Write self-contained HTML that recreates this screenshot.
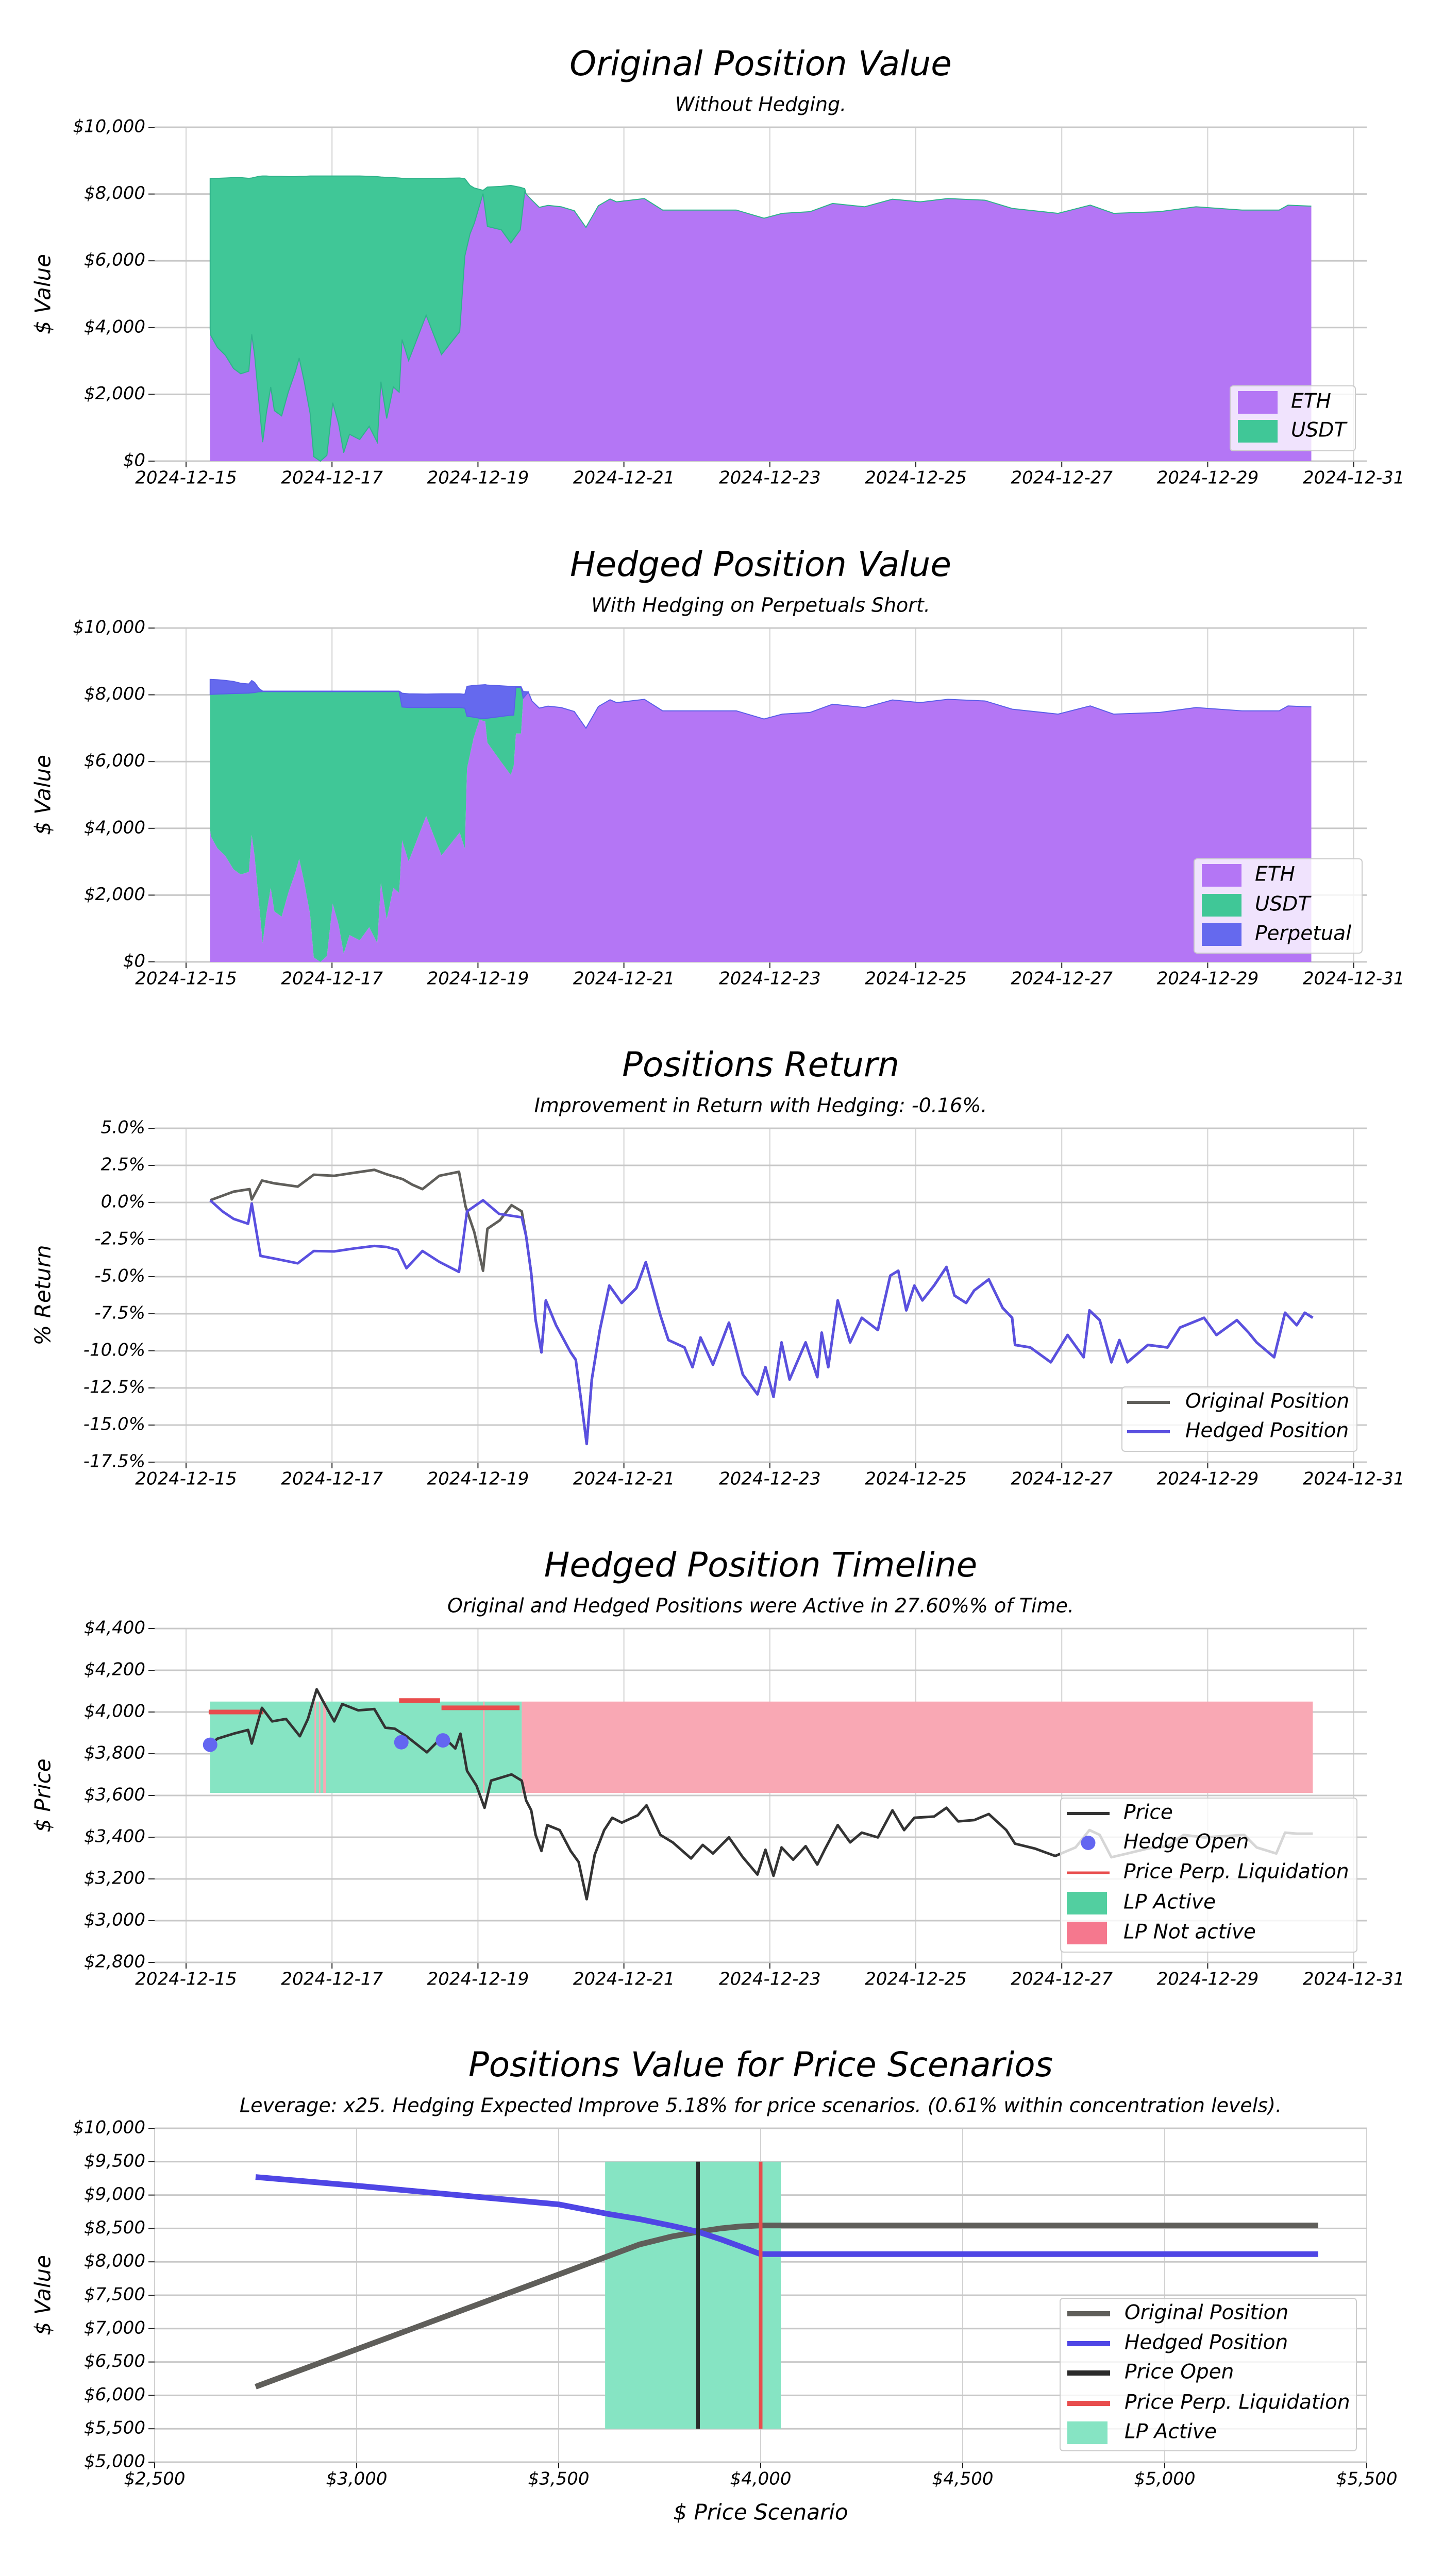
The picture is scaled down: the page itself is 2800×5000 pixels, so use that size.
<!DOCTYPE html>
<html><head><meta charset="utf-8"><title>Position Charts</title>
<style>
html,body{margin:0;padding:0;background:#fff;}
svg{display:block;font-family:"DejaVu Sans","Liberation Sans",sans-serif;font-style:italic;}
</style></head>
<body>
<svg id="root" xmlns="http://www.w3.org/2000/svg" width="2800" height="5000" viewBox="0 0 2800 5000">
<rect x="0" y="0" width="2800" height="5000" fill="#ffffff"/>
</svg>
<script>
// ---------- shared time axis ----------
const dateTicks = ["2024-12-15","2024-12-17","2024-12-19","2024-12-21","2024-12-23","2024-12-25","2024-12-27","2024-12-29","2024-12-31"];
const dateTickDays = [0,2,4,6,8,10,12,14,16];

// ---------- chart 1 & 2: position values ----------
const earlyDays = [0.33,0.34,0.43,0.54,0.65,0.75,0.86,0.9,0.94,1.0,1.05,1.1,1.16,1.21,1.31,1.4,1.5,1.55,1.62,1.7,1.75,1.84,1.93,2.01,2.09,2.16,2.24,2.38,2.51,2.62,2.67,2.75,2.84,2.92,2.96,3.05,3.29,3.5,3.75];
const earlyEth = [3956,3759,3404,3168,2774,2616,2695,3798,3168,1749,567,1434,2222,1513,1355,2065,2695,3089,2380,1434,134,0,173,1749,1119,252,804,646,1040,567,2380,1277,2222,2065,3641,3010,4370,3190,3878];
const earlyUsdtOrig = [4504,4701,5066,5312,5716,5874,5775,4682,5332,6781,7973,7106,6308,7017,7175,6455,5825,5441,6150,7106,8406,8540,8367,6791,7421,8288,7736,7894,7490,7953,6130,7223,6268,6415,4829,5450,4090,5280,4602];
const origMidDays = [3.82,3.89,3.95,4.07,4.13,4.32,4.45,4.58,4.64,4.66];
const origMidEth = [6142,6800,7126,8012,7028,6929,6535,6929,8061,8000];
const origMidUsdt = [2318,1458,1054,98,1181,1301,1723,1271,99,0];
const postDays = [4.74,4.84,4.96,5.14,5.32,5.48,5.65,5.81,5.9,6.28,6.53,7.03,7.54,7.92,8.17,8.55,8.86,9.3,9.68,10.06,10.44,10.95,11.32,11.95,12.39,12.71,13.34,13.84,14.47,14.98,15.1,15.42];
const postValue = [7815,7600,7660,7618,7500,7000,7650,7850,7765,7864,7520,7520,7520,7274,7421,7470,7717,7618,7845,7765,7864,7815,7569,7421,7667,7421,7470,7618,7520,7520,7667,7638];

const earlyUsdtHedged = [4058,4255,4616,4862,5266,5429,5355,4262,4902,6341,7528,6661,5873,6582,6740,6030,5400,5006,5715,6661,7961,8095,7922,6346,6976,7843,7291,7449,7055,7528,5715,6818,5873,6030,3993,4610,3250,4430,3742];
const earlyPerp = [448,448,430,400,360,300,274,368,300,96,15,15,15,15,15,15,15,15,15,15,15,15,15,15,15,15,15,15,15,15,15,15,15,15,414,410,400,410,410];
const hedgedMidDays = [3.82,3.85,3.94,4.02,4.1,4.13,4.31,4.45,4.49,4.52,4.59,4.62,4.69];
const hedgedMidEth = [3400,5800,6703,7255,7200,6566,6014,5600,5876,6841,6841,7900,8083];
const hedgedMidUsdt = [4200,1559,627,45,90,734,1336,1790,1517,1380,1380,0,0];
const hedgedMidPerp = [414,896,950,990,1013,990,920,860,848,20,20,200,0];
const valueTicks = [0,2000,4000,6000,8000,10000];
const valueTickLabels = ["$0","$2,000","$4,000","$6,000","$8,000","$10,000"];

// ---------- chart 3: returns ----------
const origRetDays = [0.33,0.65,0.87,0.9,1.04,1.2,1.53,1.75,2.03,2.3,2.58,2.75,2.97,3.1,3.24,3.47,3.74,3.83,3.95,4.07,4.13,4.3,4.46,4.6];
const origRet = [0.15,0.73,0.9,0.2,1.48,1.3,1.07,1.87,1.8,2.0,2.2,1.9,1.57,1.2,0.9,1.8,2.07,-0.27,-2.0,-4.6,-1.77,-1.2,-0.18,-0.6];
const hedgedRetDays = [0.33,0.5,0.65,0.85,0.9,1.02,1.2,1.53,1.75,2.03,2.3,2.58,2.75,2.9,3.02,3.24,3.47,3.74,3.85,4.07,4.29,4.6];
const hedgedRet = [0.15,-0.6,-1.1,-1.43,-0.07,-3.6,-3.77,-4.1,-3.27,-3.3,-3.1,-2.93,-3.0,-3.2,-4.43,-3.27,-4.0,-4.68,-0.6,0.15,-0.77,-1.0];
const tailRetDays = [4.66,4.73,4.79,4.87,4.93,5.07,5.27,5.34,5.42,5.49,5.56,5.67,5.8,5.97,6.17,6.3,6.5,6.61,6.83,6.94,7.05,7.22,7.44,7.63,7.83,7.94,8.05,8.16,8.27,8.49,8.65,8.71,8.8,8.93,9.1,9.26,9.48,9.65,9.76,9.87,9.98,10.09,10.25,10.42,10.53,10.69,10.8,11.0,11.19,11.32,11.36,11.57,11.85,12.08,12.3,12.38,12.52,12.68,12.79,12.9,13.18,13.45,13.62,13.95,14.12,14.4,14.56,14.67,14.91,15.06,15.22,15.33,15.44];
const tailRet = [-2.27,-4.77,-7.93,-10.1,-6.6,-8.27,-10.1,-10.6,-13.6,-16.27,-11.93,-8.6,-5.6,-6.77,-5.77,-4.02,-7.6,-9.27,-9.77,-11.1,-9.1,-10.93,-8.1,-11.6,-12.93,-11.1,-13.1,-9.43,-11.93,-9.43,-11.77,-8.77,-11.1,-6.6,-9.43,-7.77,-8.6,-4.93,-4.6,-7.27,-5.6,-6.6,-5.6,-4.35,-6.27,-6.77,-5.93,-5.18,-7.1,-7.77,-9.6,-9.77,-10.77,-8.93,-10.43,-7.27,-7.93,-10.77,-9.27,-10.77,-9.6,-9.77,-8.43,-7.77,-8.93,-7.93,-8.77,-9.43,-10.43,-7.43,-8.27,-7.43,-7.77];
const retTicks = [5,2.5,0,-2.5,-5,-7.5,-10,-12.5,-15,-17.5];
const retTickLabels = ["5.0%","2.5%","0.0%","-2.5%","-5.0%","-7.5%","-10.0%","-12.5%","-15.0%","-17.5%"];

// ---------- chart 4: timeline ----------
const priceDays = [0.33,0.43,0.65,0.85,0.9,1.04,1.18,1.37,1.56,1.67,1.79,1.87,2.03,2.14,2.36,2.58,2.73,2.86,3.02,3.3,3.52,3.69,3.76,3.85,3.98,4.09,4.18,4.46,4.6,4.66,4.73,4.79,4.87,4.95,5.12,5.27,5.38,5.49,5.6,5.73,5.84,5.97,6.19,6.31,6.5,6.67,6.92,7.08,7.22,7.44,7.63,7.83,7.94,8.05,8.16,8.32,8.49,8.65,8.76,8.93,9.1,9.26,9.48,9.68,9.84,9.98,10.25,10.42,10.58,10.8,11.0,11.24,11.36,11.63,11.91,12.19,12.38,12.52,12.68,12.9,13.18,13.45,13.67,13.95,14.23,14.5,14.67,14.94,15.06,15.22,15.44];
const prices = [3843,3872,3896,3914,3849,4020,3955,3967,3884,3967,4109,4056,3955,4038,4008,4014,3925,3920,3884,3807,3884,3825,3896,3718,3647,3541,3671,3701,3671,3576,3529,3411,3334,3458,3434,3334,3281,3103,3316,3434,3493,3470,3505,3553,3411,3375,3298,3363,3322,3399,3304,3221,3340,3215,3351,3292,3357,3269,3346,3458,3375,3422,3399,3529,3434,3493,3499,3541,3476,3482,3511,3434,3369,3346,3310,3351,3434,3411,3304,3322,3346,3357,3411,3399,3405,3411,3351,3322,3422,3417,3417];
const hedgeOpenDays = [0.33,2.95,3.52];
const hedgeOpenPrices = [3843,3855,3864];
const liqStartDays = [0.31,2.92,3.5];
const liqEndDays = [1.06,3.48,4.57];
const liqPrices = [4000,4055,4020];
const lpActiveStart = [0.33];
const lpActiveEnd = [4.6];
const lpInactiveStart = [1.76,1.82,1.88,4.07,4.6];
const lpInactiveEnd = [1.78,1.84,1.92,4.09,15.44];
const lpLow = 3612;
const lpHigh = 4050;
const priceTicks = [4400,4200,4000,3800,3600,3400,3200,3000,2800];
const priceTickLabels = ["$4,400","$4,200","$4,000","$3,800","$3,600","$3,400","$3,200","$3,000","$2,800"];

// ---------- chart 5: scenarios ----------
const scenarioPrices = [2750,3000,3250,3500,3620,3700,3780,3845,3900,3950,4000,4500,5000,5380];
const scenarioOriginal = [6130,6690,7250,7810,8080,8260,8380,8450,8500,8530,8545,8545,8545,8545];
const scenarioHedged = [9270,9140,9000,8860,8720,8640,8540,8450,8340,8230,8115,8115,8115,8115];
const priceOpen = 3845;
const priceLiquidation = 4000;
const lpRangeLow = 3615;
const lpRangeHigh = 4050;
const lpValueLow = 5500;
const lpValueHigh = 9500;
const scenXTicks = [2500,3000,3500,4000,4500,5000,5500];
const scenXTickLabels = ["$2,500","$3,000","$3,500","$4,000","$4,500","$5,000","$5,500"];
const scenYTicks = [10000,9500,9000,8500,8000,7500,7000,6500,6000,5500,5000];
const scenYTickLabels = ["$10,000","$9,500","$9,000","$8,500","$8,000","$7,500","$7,000","$6,500","$6,000","$5,500","$5,000"];

// ================= drawing =================
const NS = "http://www.w3.org/2000/svg";
const root = document.getElementById("root");
const L = 300, R = 2652, H = 648;
function mk(parent, tag, attrs, name, text) {
  const el = document.createElementNS(NS, tag);
  for (const k in attrs) el.setAttribute(k, attrs[k]);
  
  
  if (text !== undefined) el.textContent = text;
  parent.appendChild(el);
  return el;
}
function group(name) {
  const g = document.createElementNS(NS, "g");
  
  
  root.appendChild(g);
  return g;
}
const tX = d => L + (d + 0.431) * 141.6;

function frame(g, top, title, subtitle, ylabel, yVals, yLabs, yFn, xVals, xLabs, xFn) {
  mk(g, "text", {x:1476, y:top-119, "font-size":66, "text-anchor":"middle", "dominant-baseline":"middle", fill:"#000"}, "chart-title", title);
  mk(g, "text", {x:1476, y:top-42, "font-size":38, "text-anchor":"middle", "dominant-baseline":"middle", fill:"#000"}, "chart-subtitle", subtitle);
  mk(g, "text", {x:0, y:0, "font-size":42, "text-anchor":"middle", "dominant-baseline":"middle", transform:`translate(86,${top+H/2}) rotate(-90)`, fill:"#000"}, "y-axis-title", ylabel);
  for (let i=0;i<xVals.length;i++){
    const x = xFn(xVals[i]);
    mk(g, "line", {x1:x, x2:x, y1:top, y2:top+H, stroke:"#d2d2d2", "stroke-width":2}, "x-gridline");
    mk(g, "line", {x1:x, x2:x, y1:top+H, y2:top+H+12, stroke:"#222", "stroke-width":2}, "x-tick");
    mk(g, "text", {x:x, y:top+H+34, "font-size":34, "text-anchor":"middle", "dominant-baseline":"middle", fill:"#000"}, "x-tick-label", xLabs[i]);
  }
  for (let i=0;i<yVals.length;i++){
    const y = yFn(yVals[i]);
    mk(g, "line", {x1:L, x2:R, y1:y, y2:y, stroke:"#c8c8c8", "stroke-width":3}, "y-gridline");
    mk(g, "line", {x1:L-12, x2:L, y1:y, y2:y, stroke:"#222", "stroke-width":2}, "y-tick");
    mk(g, "text", {x:L-18, y:y, "font-size":34, "text-anchor":"end", "dominant-baseline":"middle", fill:"#000"}, "y-tick-label", yLabs[i]);
  }
}
function legend(g, x, y, w, h, items, textX) {
  mk(g, "rect", {x:x, y:y, width:w, height:h, rx:6, fill:"#ffffff", "fill-opacity":0.8, stroke:"#cccccc", "stroke-width":2}, "legend-box");
  items.forEach(it => {
    if (it.kind === "patch") mk(g, "rect", {x:it.ix, y:it.y-22, width:it.iw, height:44, fill:it.color}, "legend-swatch");
    else if (it.kind === "line") mk(g, "line", {x1:it.ix, x2:it.ix+it.iw, y1:it.y, y2:it.y, stroke:it.color, "stroke-width":it.sw||8}, "legend-swatch");
    else mk(g, "circle", {cx:it.ix+it.iw/2, cy:it.y, r:14, fill:it.color}, "legend-swatch");
    mk(g, "text", {x:textX, y:it.y, "font-size":39, "dominant-baseline":"middle", fill:"#000"}, "legend-entry", it.label);
  });
}
function stackPath(days, lower, upper, yFn) {
  let d = "";
  for (let i=0;i<days.length;i++) d += (i?"L":"M") + tX(days[i]).toFixed(1) + "," + yFn(upper[i]).toFixed(1);
  for (let i=days.length-1;i>=0;i--) d += "L" + tX(days[i]).toFixed(1) + "," + yFn(lower[i]).toFixed(1);
  return d + "Z";
}
function linePts(xs, ys, xFn, yFn){ return xs.map((v,i)=>xFn(v).toFixed(1)+","+yFn(ys[i]).toFixed(1)).join(" "); }

// ---- Chart 1 ----
(function(){
  const top = 247, g = group("original-position-value-chart");
  const Y = v => top + H - v/10000*H;
  frame(g, top, "Original Position Value", "Without Hedging.", "$ Value", valueTicks, valueTickLabels, Y, dateTickDays, dateTicks, tX);
  const days = earlyDays.concat(origMidDays, postDays);
  const eth = earlyEth.concat(origMidEth, postValue);
  const usdt = earlyUsdtOrig.concat(origMidUsdt, postValue.map(() => 0));
  const zero = days.map(() => 0);
  const top1 = eth.map((v,i)=>v+usdt[i]);
  mk(g, "path", {d:stackPath(days, zero, eth, Y), fill:"#b476f5"}, "eth-area");
  mk(g, "path", {d:stackPath(days, eth, top1, Y), fill:"#40c797", stroke:"#2fb38a", "stroke-width":2}, "usdt-area");
  legend(g, 2387, 749, 243, 126, [
    {kind:"patch", ix:2402, iw:77, y:781, color:"#b476f5", label:"ETH"},
    {kind:"patch", ix:2402, iw:77, y:837, color:"#40c797", label:"USDT"}], 2505);
})();

// ---- Chart 2 ----
(function(){
  const top = 1219, g = group("hedged-position-value-chart");
  const Y = v => top + H - v/10000*H;
  frame(g, top, "Hedged Position Value", "With Hedging on Perpetuals Short.", "$ Value", valueTicks, valueTickLabels, Y, dateTickDays, dateTicks, tX);
  const days = earlyDays.concat(hedgedMidDays, postDays);
  const eth = earlyEth.concat(hedgedMidEth, postValue);
  const usdt = earlyUsdtHedged.concat(hedgedMidUsdt, postValue.map(() => 0));
  const perp = earlyPerp.concat(hedgedMidPerp, postValue.map(() => 0));
  const zero = days.map(() => 0);
  const l2 = eth.map((v,i)=>v+usdt[i]);
  const l3 = l2.map((v,i)=>v+perp[i]);
  mk(g, "path", {d:stackPath(days, zero, eth, Y), fill:"#b476f5"}, "eth-area");
  mk(g, "path", {d:stackPath(days, eth, l2, Y), fill:"#40c797"}, "usdt-area");
  mk(g, "path", {d:stackPath(days, l2, l3, Y), fill:"#6569ee", stroke:"#5b5fe8", "stroke-width":2}, "perpetual-area");
  legend(g, 2317, 1667, 326, 183, [
    {kind:"patch", ix:2332, iw:77, y:1699, color:"#b476f5", label:"ETH"},
    {kind:"patch", ix:2332, iw:77, y:1757, color:"#40c797", label:"USDT"},
    {kind:"patch", ix:2332, iw:77, y:1814, color:"#6569ee", label:"Perpetual"}], 2435);
})();

// ---- Chart 3 ----
(function(){
  const top = 2190, g = group("positions-return-chart");
  const Y = v => top + (5 - v)/22.5*H;
  frame(g, top, "Positions Return", "Improvement in Return with Hedging: -0.16%.", "% Return", retTicks, retTickLabels, Y, dateTickDays, dateTicks, tX);
  mk(g, "polyline", {points:linePts(origRetDays.concat(tailRetDays), origRet.concat(tailRet), tX, Y), fill:"none", stroke:"#5f5e5a", "stroke-width":5, "stroke-linejoin":"round"}, "original-position-line");
  mk(g, "polyline", {points:linePts(hedgedRetDays.concat(tailRetDays), hedgedRet.concat(tailRet), tX, Y), fill:"none", stroke:"#5a50e0", "stroke-width":5, "stroke-linejoin":"round"}, "hedged-position-line");
  legend(g, 2177, 2692, 456, 125, [
    {kind:"line", ix:2187, iw:83, y:2722, color:"#5f5e5a", label:"Original Position", sw:6},
    {kind:"line", ix:2187, iw:83, y:2779, color:"#5a50e0", label:"Hedged Position", sw:6}], 2300);
})();

// ---- Chart 4 ----
(function(){
  const top = 3161, g = group("hedged-position-timeline-chart");
  const Y = v => top + (4400 - v)/1600*H;
  frame(g, top, "Hedged Position Timeline", "Original and Hedged Positions were Active in 27.60%% of Time.", "$ Price", priceTicks, priceTickLabels, Y, dateTickDays, dateTicks, tX);
  for (let i=0;i<lpActiveStart.length;i++)
    mk(g, "rect", {x:tX(lpActiveStart[i]), y:Y(lpHigh), width:tX(lpActiveEnd[i])-tX(lpActiveStart[i]), height:Y(lpLow)-Y(lpHigh), fill:"#86e4c3"}, "lp-active-range");
  for (let i=0;i<lpInactiveStart.length;i++)
    mk(g, "rect", {x:tX(lpInactiveStart[i]), y:Y(lpHigh), width:Math.max(3,tX(lpInactiveEnd[i])-tX(lpInactiveStart[i])), height:Y(lpLow)-Y(lpHigh), fill:"#f9a8b4"}, "lp-not-active-range");
  for (let i=0;i<liqPrices.length;i++)
    mk(g, "line", {x1:tX(liqStartDays[i]), x2:tX(liqEndDays[i]), y1:Y(liqPrices[i]), y2:Y(liqPrices[i]), stroke:"#e84d4d", "stroke-width":9}, "liquidation-price-bar");
  mk(g, "polyline", {points:linePts(priceDays, prices, tX, Y), fill:"none", stroke:"#333333", "stroke-width":5, "stroke-linejoin":"round"}, "price-line");
  for (let i=0;i<hedgeOpenDays.length;i++)
    mk(g, "circle", {cx:tX(hedgeOpenDays[i]), cy:Y(hedgeOpenPrices[i]), r:14, fill:"#6366f1"}, "hedge-open-marker");
  legend(g, 2058, 3490, 575, 299, [
    {kind:"line", ix:2070, iw:83, y:3520, color:"#333333", label:"Price", sw:6},
    {kind:"dot", ix:2070, iw:83, y:3577, color:"#6366f1", label:"Hedge Open"},
    {kind:"line", ix:2070, iw:83, y:3635, color:"#e84d4d", label:"Price Perp. Liquidation", sw:5},
    {kind:"patch", ix:2070, iw:78, y:3694, color:"#52cfa0", label:"LP Active"},
    {kind:"patch", ix:2070, iw:78, y:3752, color:"#f5788e", label:"LP Not active"}], 2180);
})();

// ---- Chart 5 ----
(function(){
  const top = 4131, g = group("price-scenarios-chart");
  const X = p => L + (p - 2500)/3000*(R-L);
  const Y = v => top + (10000 - v)/5000*H;
  frame(g, top, "Positions Value for Price Scenarios", "Leverage: x25. Hedging Expected Improve 5.18% for price scenarios. (0.61% within concentration levels).", "$ Value", scenYTicks, scenYTickLabels, Y, scenXTicks, scenXTickLabels, X);
  mk(g, "text", {x:1476, y:4879, "font-size":42, "text-anchor":"middle", "dominant-baseline":"middle", fill:"#000"}, "x-axis-title", "$ Price Scenario");
  mk(g, "rect", {x:X(lpRangeLow), y:Y(lpValueHigh), width:X(lpRangeHigh)-X(lpRangeLow), height:Y(lpValueLow)-Y(lpValueHigh), fill:"#86e4c3"}, "lp-active-range");
  mk(g, "polyline", {points:linePts(scenarioPrices, scenarioOriginal, X, Y), fill:"none", stroke:"#5f5e5a", "stroke-width":11, "stroke-linejoin":"round"}, "original-position-line");
  mk(g, "polyline", {points:linePts(scenarioPrices, scenarioHedged, X, Y), fill:"none", stroke:"#4f46e5", "stroke-width":11, "stroke-linejoin":"round"}, "hedged-position-line");
  mk(g, "line", {x1:X(priceOpen), x2:X(priceOpen), y1:Y(lpValueHigh), y2:Y(lpValueLow), stroke:"#2a2a2a", "stroke-width":7}, "price-open-line");
  mk(g, "line", {x1:X(priceLiquidation), x2:X(priceLiquidation), y1:Y(lpValueHigh), y2:Y(lpValueLow), stroke:"#e84d4d", "stroke-width":7}, "liquidation-price-line");
  legend(g, 2057, 4461, 575, 296, [
    {kind:"line", ix:2071, iw:83, y:4491, color:"#5f5e5a", label:"Original Position", sw:10},
    {kind:"line", ix:2071, iw:83, y:4549, color:"#4f46e5", label:"Hedged Position", sw:10},
    {kind:"line", ix:2071, iw:83, y:4606, color:"#2a2a2a", label:"Price Open", sw:10},
    {kind:"line", ix:2071, iw:83, y:4665, color:"#e84d4d", label:"Price Perp. Liquidation", sw:10},
    {kind:"patch", ix:2071, iw:78, y:4722, color:"#86e4c3", label:"LP Active"}], 2182);
})();
</script>
</body></html>
